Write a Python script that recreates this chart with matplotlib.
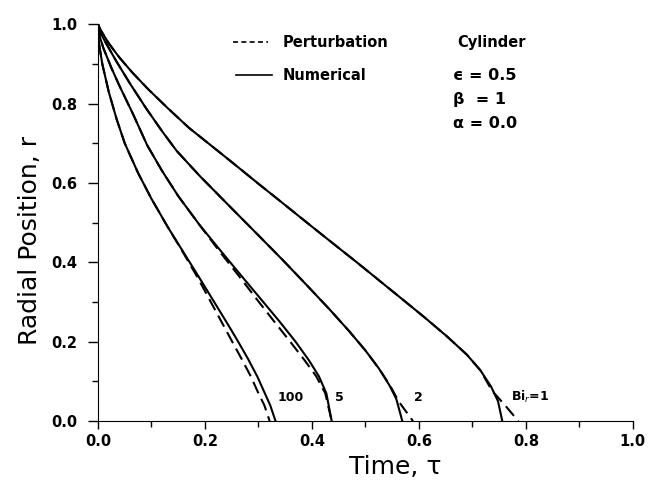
import numpy as np
import matplotlib
matplotlib.use('Agg')
import matplotlib.pyplot as plt
from matplotlib.ticker import MultipleLocator

# numerical solution (solid): (tau, r)
num_tau = {
    '1':   [0, 0.005, 0.02, 0.04, 0.065, 0.094, 0.13, 0.17, 0.222, 0.247, 0.30, 0.34, 0.40, 0.44, 0.484,
            0.527, 0.57, 0.61, 0.652, 0.69, 0.715, 0.735, 0.748, 0.756],
    '2':   [0, 0.004, 0.015, 0.035, 0.06, 0.09, 0.12, 0.147, 0.19, 0.247, 0.30, 0.346, 0.39, 0.434, 0.47,
            0.50, 0.525, 0.545, 0.558, 0.569],
    '5':   [0, 0.003, 0.01, 0.025, 0.04, 0.065, 0.092, 0.12, 0.15, 0.19, 0.23, 0.27, 0.306, 0.34, 0.37,
            0.395, 0.413, 0.427, 0.437],
    '100': [0, 0.002, 0.008, 0.02, 0.035, 0.05, 0.075, 0.10, 0.13, 0.16, 0.19, 0.215, 0.24, 0.26, 0.28,
            0.298, 0.312, 0.322, 0.332],
}
num_r = {
    '1':   [1.0, 0.985, 0.952, 0.916, 0.877, 0.836, 0.789, 0.739, 0.683, 0.656, 0.598, 0.555, 0.49, 0.447, 0.40,
            0.353, 0.306, 0.262, 0.214, 0.167, 0.128, 0.087, 0.05, 0.0],
    '2':   [1.0, 0.98, 0.952, 0.905, 0.85, 0.788, 0.73, 0.681, 0.618, 0.54, 0.468, 0.405, 0.343, 0.28, 0.226,
            0.178, 0.133, 0.09, 0.055, 0.0],
    '5':   [1.0, 0.97, 0.94, 0.89, 0.845, 0.775, 0.695, 0.63, 0.567, 0.494, 0.428, 0.363, 0.305, 0.25, 0.199,
            0.152, 0.113, 0.07, 0.0],
    '100': [1.0, 0.95, 0.90, 0.83, 0.76, 0.70, 0.625, 0.56, 0.49, 0.425, 0.36, 0.305, 0.25, 0.205, 0.158,
            0.112, 0.07, 0.04, 0.0],
}
# perturbation solution (dashed)
pert_tau = {
    '1':   [0, 0.005, 0.02, 0.04, 0.065, 0.094, 0.13, 0.17, 0.222, 0.247, 0.30, 0.34, 0.40, 0.44, 0.484,
            0.527, 0.57, 0.61, 0.652, 0.69, 0.715, 0.737, 0.761, 0.786],
    '2':   [0, 0.004, 0.015, 0.035, 0.06, 0.09, 0.12, 0.147, 0.19, 0.247, 0.30, 0.346, 0.39, 0.434, 0.47,
            0.50, 0.525, 0.546, 0.562, 0.589],
    '5':   [0, 0.003, 0.01, 0.025, 0.04, 0.065, 0.092, 0.12, 0.15, 0.19, 0.227, 0.265, 0.298, 0.33, 0.36,
            0.387, 0.408, 0.425, 0.437],
    '100': [0, 0.002, 0.008, 0.02, 0.035, 0.05, 0.075, 0.10, 0.13, 0.159, 0.187, 0.209, 0.231, 0.249, 0.268,
            0.286, 0.300, 0.311, 0.321],
}
pert_r = {
    '1':   [1.0, 0.985, 0.952, 0.916, 0.877, 0.836, 0.789, 0.739, 0.683, 0.656, 0.598, 0.555, 0.49, 0.447, 0.40,
            0.353, 0.306, 0.262, 0.214, 0.167, 0.128, 0.076, 0.04, 0.0],
    '2':   [1.0, 0.98, 0.952, 0.905, 0.85, 0.788, 0.73, 0.681, 0.618, 0.54, 0.468, 0.405, 0.343, 0.28, 0.226,
            0.178, 0.133, 0.09, 0.05, 0.0],
    '5':   [1.0, 0.97, 0.94, 0.89, 0.845, 0.775, 0.695, 0.63, 0.567, 0.494, 0.428, 0.363, 0.305, 0.25, 0.199,
            0.152, 0.113, 0.07, 0.0],
    '100': [1.0, 0.95, 0.90, 0.83, 0.76, 0.70, 0.625, 0.56, 0.49, 0.425, 0.36, 0.305, 0.25, 0.205, 0.158,
            0.112, 0.07, 0.04, 0.0],
}
curve_labels = ['100', '5', '2', 'Bi$_r$=1']
label_tau = [0.335, 0.443, 0.590, 0.773]
label_r = [0.06, 0.06, 0.06, 0.06]

fig = plt.figure(figsize=(6.49, 4.84), dpi=100)
ax = fig.add_axes([0.151, 0.130, 0.824, 0.820])

for k in ['1', '2', '5', '100']:
    ax.plot(num_tau[k], num_r[k], 'k-', lw=1.5)
    ax.plot(pert_tau[k], pert_r[k], 'k--', lw=1.5, dashes=(6, 3))

for s, x, y in zip(curve_labels, label_tau, label_r):
    ax.text(x, y, s, fontsize=9, fontweight='bold', va='center', ha='left')

# legend and parameters as text
ax.plot([0.253, 0.318], [0.955, 0.955], 'k--', lw=1.2, dashes=(3, 2))
ax.plot([0.258, 0.325], [0.872, 0.872], 'k-', lw=1.2)
ax.text(0.345, 0.955, 'Perturbation', fontsize=10.5, fontweight='bold', va='center')
ax.text(0.345, 0.872, 'Numerical', fontsize=10.5, fontweight='bold', va='center')
ax.text(0.672, 0.955, 'Cylinder', fontsize=10.5, fontweight='bold', va='center')
ax.text(0.663, 0.87, 'ϵ = 0.5', fontsize=11.5, fontweight='bold', va='center')
ax.text(0.663, 0.81, 'β  = 1', fontsize=11.5, fontweight='bold', va='center')
ax.text(0.663, 0.75, 'α = 0.0', fontsize=11.5, fontweight='bold', va='center')

ax.set_xlim(0, 1.0); ax.set_ylim(0, 1.0)
ax.spines['top'].set_visible(False); ax.spines['right'].set_visible(False)
ax.xaxis.set_major_locator(MultipleLocator(0.2)); ax.xaxis.set_minor_locator(MultipleLocator(0.1))
ax.yaxis.set_major_locator(MultipleLocator(0.2)); ax.yaxis.set_minor_locator(MultipleLocator(0.1))
ax.tick_params(axis='x', which='major', direction='out', length=6, width=1, labelsize=10.5)
ax.tick_params(axis='x', which='minor', direction='out', length=4, width=1)
ax.tick_params(axis='y', which='major', direction='out', length=7, width=1, labelsize=10.5, pad=8)
ax.tick_params(axis='y', which='minor', direction='out', length=4.5, width=1)
ax.xaxis.set_major_formatter(plt.FormatStrFormatter('%.1f'))
ax.yaxis.set_major_formatter(plt.FormatStrFormatter('%.1f'))
for lbl in ax.get_xticklabels() + ax.get_yticklabels():
    lbl.set_fontweight('bold')
ax.set_xlabel('Time, τ', fontsize=18)
ax.set_ylabel('Radial Position, r', fontsize=18)
ax.xaxis.set_label_coords(0.555, -0.085)
ax.yaxis.set_label_coords(-0.105, 0.456)

plt.savefig('out.png', dpi=100)
